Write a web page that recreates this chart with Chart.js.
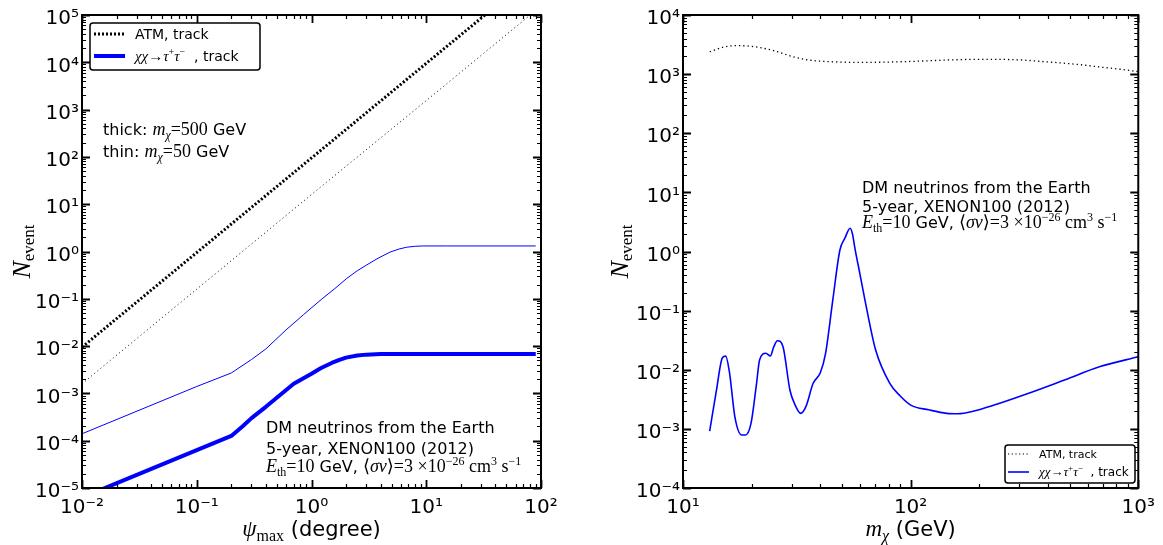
<!DOCTYPE html>
<html>
<head>
<meta charset="utf-8">
<script src="https://cdn.jsdelivr.net/npm/chart.js@4.4.0/dist/chart.umd.min.js"></script>
<style>
  html, body { margin: 0; padding: 0; background: #fff; }
  #wrap { position: relative; width: 1163px; height: 545px; }
  canvas { position: absolute; top: 0; }
  #left { left: 0; }
  #right { left: 590px; }
</style>
</head>
<body>
<div id="wrap">
  <canvas id="left" width="580" height="545"></canvas>
  <canvas id="right" width="573" height="545"></canvas>
</div>
<script>
// ---- left panel: N_event vs psi_max ----
const psiAtmThick = [0.01, 0.1, 1, 10, 35];
const atmThick    = [0.0095, 0.95, 95, 9500, 1.16e5];
const psiAtmThin  = [0.01, 0.1, 1, 10, 90];
const atmThin     = [1.6e-3, 0.16, 16, 1550, 1.25e5];
const psiDmThick  = [0.01, 0.1, 0.2, 0.25, 0.3, 0.4, 0.7, 1.0, 1.2, 1.5, 1.75, 2.0, 2.5, 3.0, 4.0, 90];
const dmThick     = [6.3e-6, 6.3e-5, 1.26e-4, 2.0e-4, 3.0e-4, 5.2e-4, 1.6e-3, 2.6e-3, 3.4e-3, 4.4e-3, 5.1e-3, 5.7e-3, 6.3e-3, 6.6e-3, 6.8e-3, 6.8e-3];
const psiDmThin   = [0.01, 0.1, 0.2, 0.3, 0.4, 0.6, 0.85, 1.23, 1.6, 2.03, 2.5, 3.03, 3.8, 4.83, 5.8, 6.75, 8.0, 9.4, 15, 90];
const dmThin      = [1.4e-4, 1.4e-3, 2.7e-3, 5.2e-3, 8.7e-3, 0.022, 0.046, 0.099, 0.165, 0.27, 0.39, 0.52, 0.72, 0.97, 1.13, 1.23, 1.29, 1.31, 1.31, 1.31];

const leftXTicks  = [1e-2, 1e-1, 1, 10, 100];
const leftXLabels = ['10⁻²', '10⁻¹', '10⁰', '10¹', '10²'];
const leftYTicks  = [1e-5, 1e-4, 1e-3, 1e-2, 1e-1, 1, 10, 100, 1e3, 1e4, 1e5];
const leftYLabels = ['10⁻⁵', '10⁻⁴', '10⁻³', '10⁻²', '10⁻¹', '10⁰', '10¹', '10²', '10³', '10⁴', '10⁵'];

// ---- right panel: N_event vs m_chi ----
const mAtm  = [13.1, 15, 17, 20, 25, 30, 35, 45, 60, 80, 110, 150, 200, 280, 400, 550, 700, 850, 1000];
const nAtm  = [2390, 2850, 3030, 2950, 2500, 2000, 1750, 1620, 1580, 1600, 1660, 1740, 1780, 1760, 1610, 1450, 1300, 1200, 1100];
const mDm   = [13.1, 14.0, 14.9, 15.4, 16.0, 16.9, 18.1, 18.8, 19.9, 21.0, 21.7, 23.1, 24.2, 25.0, 26.0, 27.5, 29.5, 31.0, 32.9, 34.7,
               37.3, 40.1, 42.3, 45.5, 48.9, 51.5, 54.2, 55.5, 57, 60, 63, 70.2, 81, 90, 100.5, 120, 144, 161, 190, 231, 330, 474, 680, 1000];
const nDm   = [9.2e-4, 4.3e-3, 0.016, 0.017, 0.009, 1.6e-3, 7.9e-4, 7.9e-4, 1.24e-3, 5.5e-3, 0.0146, 0.019, 0.0171, 0.024, 0.031, 0.0245, 4.5e-3, 2.6e-3, 1.83e-3, 2.4e-3,
               5.9e-3, 8.9e-3, 0.019, 0.151, 1.06, 1.7, 2.47, 2.0, 1.1, 0.4, 0.151, 0.0216, 5.9e-3, 3.6e-3, 2.5e-3, 2.1e-3, 1.83e-3, 1.8e-3, 2.0e-3, 2.5e-3, 4.0e-3, 6.7e-3, 0.0113, 0.0166];

const rightXTicks  = [10, 100, 1000];
const rightXLabels = ['10¹', '10²', '10³'];
const rightYTicks  = [1e-4, 1e-3, 1e-2, 1e-1, 1, 10, 100, 1e3, 1e4];
const rightYLabels = ['10⁻⁴', '10⁻³', '10⁻²', '10⁻¹', '10⁰', '10¹', '10²', '10³', '10⁴'];

const SANS = '"DejaVu Sans", sans-serif';
const SERIF = '"Liberation Serif", "DejaVu Serif", serif';
const BLUE = '#0000ff';

function pts(xs, ys) {
    return xs.map((x, i) => ({ x: x, y: ys[i] }));
}

// draw a run of text pieces: [text, font, dy]
function rich(ctx, x, y, parts, measureOnly) {
    let cx = x;
    parts.forEach(p => {
        ctx.font = p[1];
        if (!measureOnly) ctx.fillText(p[0], cx, y + (p[2] || 0));
        cx += ctx.measureText(p[0]).width;
    });
    return cx - x;
}

// inward ticks on all four sides + black frame, matplotlib style
const frameTicks = {
    id: 'frameTicks',
    afterDatasetsDraw(chart) {
        const ctx = chart.ctx;
        const a = chart.chartArea;
        const xs = chart.scales.x, ys = chart.scales.y;
        ctx.save();
        ctx.strokeStyle = '#000';
        const logTicks = (scale) => {
            const out = [];
            const lo = Math.floor(Math.log10(scale.min)), hi = Math.ceil(Math.log10(scale.max));
            for (let d = lo; d <= hi; d++) {
                for (let k = 1; k <= 9; k++) {
                    const v = k * Math.pow(10, d);
                    if (v >= scale.min * 0.999 && v <= scale.max * 1.001) out.push({ v: v, major: k === 1 });
                }
            }
            return out;
        };
        logTicks(xs).forEach(t => {
            const px = Math.round(xs.getPixelForValue(t.v)) + 0.5;
            const len = t.major ? 8 : 4;
            ctx.lineWidth = t.major ? 1.8 : 1.2;
            ctx.beginPath();
            ctx.moveTo(px, a.bottom); ctx.lineTo(px, a.bottom - len);
            ctx.moveTo(px, a.top); ctx.lineTo(px, a.top + len);
            ctx.stroke();
        });
        logTicks(ys).forEach(t => {
            const py = Math.round(ys.getPixelForValue(t.v)) + 0.5;
            const len = t.major ? 8 : 4;
            ctx.lineWidth = t.major ? 1.8 : 1.2;
            ctx.beginPath();
            ctx.moveTo(a.left, py); ctx.lineTo(a.left + len, py);
            ctx.moveTo(a.right, py); ctx.lineTo(a.right - len, py);
            ctx.stroke();
        });
        ctx.lineWidth = 2;
        ctx.strokeRect(a.left, a.top, a.right - a.left, a.bottom - a.top);
        ctx.restore();
    }
};

// texts, axis titles and legend box for one panel
function decorations(cfg) {
    return {
        id: 'decorations',
        afterDraw(chart) {
            const ctx = chart.ctx;
            const a = chart.chartArea;
            ctx.save();
            ctx.fillStyle = '#000';
            ctx.textBaseline = 'alphabetic';

            // x axis title
            let w = rich(ctx, 0, 0, cfg.xTitle, true);
            rich(ctx, (a.left + a.right) / 2 - w / 2, cfg.xTitleY, cfg.xTitle);

            // y axis title, rotated
            ctx.save();
            ctx.translate(cfg.yTitleX, (a.top + a.bottom) / 2);
            ctx.rotate(-Math.PI / 2);
            w = rich(ctx, 0, 0, cfg.yTitle, true);
            rich(ctx, -w / 2, 0, cfg.yTitle);
            ctx.restore();

            // free text blocks
            cfg.texts.forEach(t => rich(ctx, t.x, t.y, t.parts));

            // legend
            const L = cfg.legend;
            ctx.beginPath();
            ctx.roundRect(L.x, L.y, L.w, L.h, 3);
            ctx.fillStyle = '#fff';
            ctx.fill();
            ctx.lineWidth = 1.5;
            ctx.strokeStyle = '#000';
            ctx.stroke();
            ctx.fillStyle = '#000';
            L.items.forEach(it => {
                ctx.save();
                ctx.strokeStyle = it.color;
                ctx.lineWidth = it.width;
                ctx.setLineDash(it.dash);
                ctx.beginPath();
                ctx.moveTo(L.lineX0, it.y);
                ctx.lineTo(L.lineX1, it.y);
                ctx.stroke();
                ctx.restore();
                rich(ctx, L.textX, it.y + it.base, it.parts);
            });
            ctx.restore();
        }
    };
}

function makeOptions(o) {
    return {
        responsive: false,
        animation: false,
        events: [],
        layout: { padding: { top: 15, right: o.padRight, left: 0, bottom: 0 } },
        plugins: { legend: { display: false }, tooltip: { enabled: false } },
        elements: { point: { radius: 0 } },
        scales: {
            x: {
                type: 'logarithmic',
                min: o.xTicks[0],
                max: o.xTicks[o.xTicks.length - 1],
                grid: { display: false, drawTicks: false },
                border: { display: false },
                afterBuildTicks: (scale) => { scale.ticks = o.xTicks.map(v => ({ value: v })); },
                afterFit: (scale) => { scale.height = 57; },
                ticks: {
                    autoSkip: false,
                    maxRotation: 0,
                    padding: 8,
                    color: '#000',
                    font: { family: SANS, size: 20 },
                    callback: (v, i) => o.xLabels[i]
                }
            },
            y: {
                type: 'logarithmic',
                min: o.yTicks[0],
                max: o.yTicks[o.yTicks.length - 1],
                grid: { display: false, drawTicks: false },
                border: { display: false },
                afterBuildTicks: (scale) => { scale.ticks = o.yTicks.map(v => ({ value: v })); },
                afterFit: (scale) => { scale.width = o.yWidth; },
                ticks: {
                    autoSkip: false,
                    padding: 3,
                    labelOffset: 4,
                    color: '#000',
                    font: { family: SANS, size: 20 },
                    callback: (v, i) => o.yLabels[i]
                }
            }
        }
    };
}

// shared pieces of math text
const yTitleParts = [['N', 'italic 26px ' + SERIF], ['event', '17px ' + SERIF, 4]];
function infoLines(x, y0, dy) {
    return [
        { x: x, y: y0, parts: [['DM neutrinos from the Earth', '16px ' + SANS]] },
        { x: x, y: y0 + dy, parts: [['5-year, XENON100 (2012)', '16px ' + SANS]] },
        { x: x, y: y0 + dy * 1.85, parts: [
            ['E', 'italic 18px ' + SERIF], ['th', '12px ' + SERIF, 4], ['=10', '18px ' + SERIF],
            [' GeV, ', '16px ' + SANS], ['⟨', '18px ' + SERIF], ['σv', 'italic 18px ' + SERIF], ['⟩', '18px ' + SERIF],
            ['=3 ×10', '18px ' + SERIF], ['−26', '12px ' + SERIF, -7], [' cm', '18px ' + SERIF], ['3', '12px ' + SERIF, -7],
            [' s', '18px ' + SERIF], ['−1', '12px ' + SERIF, -7]
        ] }
    ];
}
function dmLegendParts(s) {
    const f = (n) => Math.round(n * s) + 'px ';
    return [['χχ', 'italic ' + f(15) + SERIF], ['→', f(15) + SERIF], ['τ', 'italic ' + f(15) + SERIF], ['+', f(10) + SERIF, -6 * s],
            ['τ', 'italic ' + f(15) + SERIF], ['−', f(10) + SERIF, -6 * s], ['  , track', f(14) + SANS]];
}

new Chart(document.getElementById('left'), {
    type: 'line',
    data: {
        datasets: [
            { label: 'ATM, track (500 GeV)', data: pts(psiAtmThick, atmThick), borderColor: '#000', borderWidth: 3, borderDash: [2, 2], tension: 0 },
            { label: 'ATM, track (50 GeV)', data: pts(psiAtmThin, atmThin), borderColor: '#000', borderWidth: 1, borderDash: [1, 3], tension: 0 },
            { label: 'χχ→τ⁺τ⁻, track (500 GeV)', data: pts(psiDmThick, dmThick), borderColor: BLUE, borderWidth: 4, tension: 0, borderJoinStyle: 'round' },
            { label: 'χχ→τ⁺τ⁻, track (50 GeV)', data: pts(psiDmThin, dmThin), borderColor: BLUE, borderWidth: 1, tension: 0 }
        ]
    },
    options: makeOptions({ xTicks: leftXTicks, xLabels: leftXLabels, yTicks: leftYTicks, yLabels: leftYLabels, yWidth: 82, padRight: 39 }),
    plugins: [frameTicks, decorations({
        xTitle: [['ψ', 'italic 23px ' + SERIF], ['max', '16px ' + SERIF, 5], [' (degree)', '21px ' + SANS]],
        xTitleY: 536,
        yTitle: yTitleParts,
        yTitleX: 30,
        texts: [
            { x: 103, y: 135, parts: [['thick: ', '16px ' + SANS], ['m', 'italic 18px ' + SERIF], ['χ', 'italic 12px ' + SERIF, 4], ['=500', '18px ' + SERIF], [' GeV', '16px ' + SANS]] },
            { x: 103, y: 157, parts: [['thin: ', '16px ' + SANS], ['m', 'italic 18px ' + SERIF], ['χ', 'italic 12px ' + SERIF, 4], ['=50', '18px ' + SERIF], [' GeV', '16px ' + SANS]] }
        ].concat(infoLines(266, 433, 21)),
        legend: {
            x: 90, y: 23, w: 170, h: 47, lineX0: 94, lineX1: 125, textX: 135,
            items: [
                { y: 34, color: '#000', width: 3, dash: [2, 2], base: 5, parts: [['ATM, track', '14px ' + SANS]] },
                { y: 56, color: BLUE, width: 4, dash: [], base: 5, parts: dmLegendParts(1) }
            ]
        }
    })]
});

new Chart(document.getElementById('right'), {
    type: 'line',
    data: {
        datasets: [
            { label: 'ATM, track', data: pts(mAtm, nAtm), borderColor: '#000', borderWidth: 1.3, borderDash: [1.3, 3], cubicInterpolationMode: 'monotone' },
            { label: 'χχ→τ⁺τ⁻ , track', data: pts(mDm, nDm), borderColor: BLUE, borderWidth: 1.6, cubicInterpolationMode: 'monotone' }
        ]
    },
    options: makeOptions({ xTicks: rightXTicks, xLabels: rightXLabels, yTicks: rightYTicks, yLabels: rightYLabels, yWidth: 93, padRight: 22 }),
    plugins: [frameTicks, decorations({
        xTitle: [['m', 'italic 23px ' + SERIF], ['χ', 'italic 16px ' + SERIF, 5], [' (GeV)', '21px ' + SANS]],
        xTitleY: 536,
        yTitle: yTitleParts,
        yTitleX: 38,
        texts: infoLines(272, 193, 19),
        legend: {
            x: 415, y: 445, w: 130, h: 38, lineX0: 418, lineX1: 439, textX: 449,
            items: [
                { y: 454, color: '#000', width: 1.2, dash: [1.2, 2.5], base: 4, parts: [['ATM, track', '11px ' + SANS]] },
                { y: 472, color: BLUE, width: 1.6, dash: [], base: 4, parts: dmLegendParts(12 / 14) }
            ]
        }
    })]
});
</script>
</body>
</html>
